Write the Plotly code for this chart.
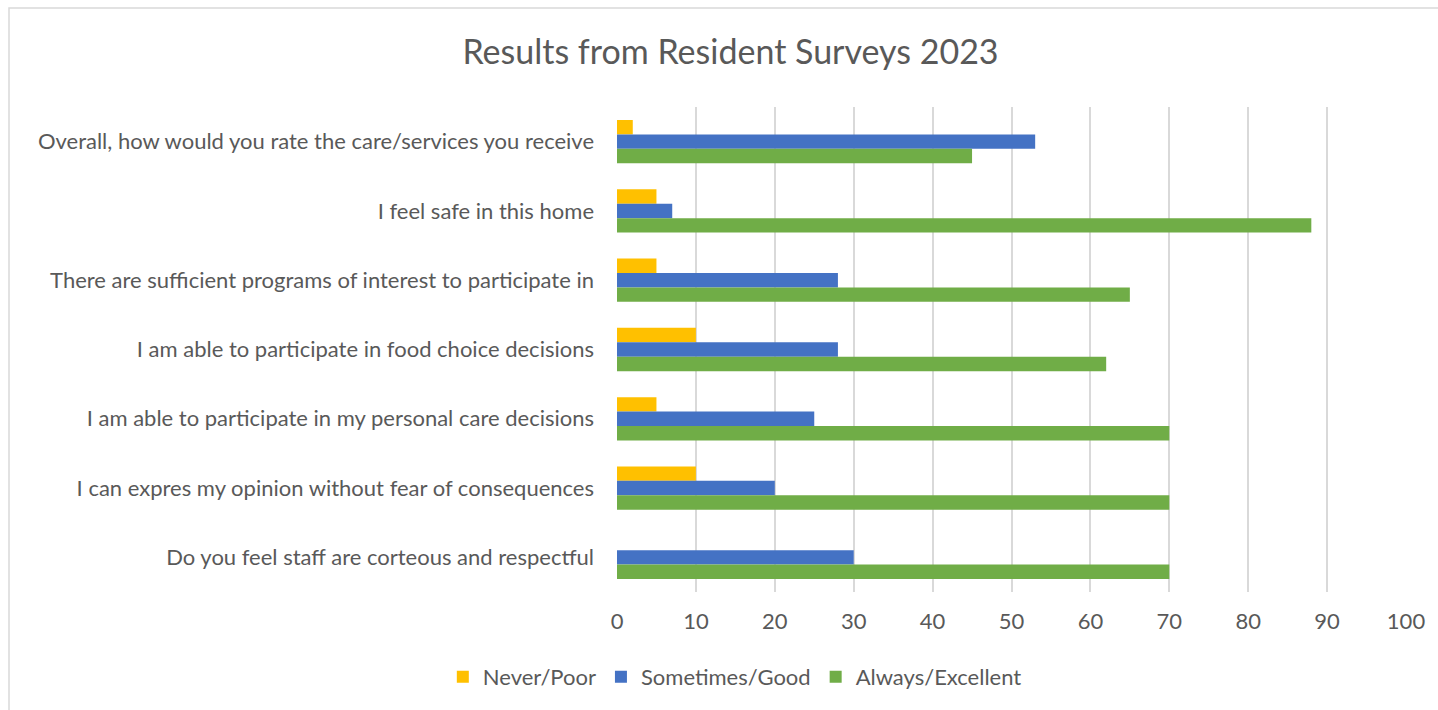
import plotly.graph_objects as go

categories = [
    "Overall, how would you rate the care/services you receive",
    "I feel safe in this home",
    "There are sufficient programs of interest to participate in",
    "I am able to participate in food choice decisions",
    "I am able to participate in my personal care decisions",
    "I can expres my opinion without fear of consequences",
    "Do you feel staff are corteous and respectful",
]
never_poor = [2, 5, 5, 10, 5, 10, 0]
sometimes_good = [53, 7, 28, 28, 25, 20, 30]
always_excellent = [45, 88, 65, 62, 70, 70, 70]

series = [
    ("Never/Poor", never_poor, "#FFC000"),
    ("Sometimes/Good", sometimes_good, "#4472C4"),
    ("Always/Excellent", always_excellent, "#70AD47"),
]

FONT = "Lato"
GREY = "#595959"

fig = go.Figure()
for name, vals, col in series:
    fig.add_trace(go.Bar(
        y=categories, x=vals, name=name, orientation="h",
        marker=dict(color=col, line=dict(width=0)),
    ))

W, H = 1438, 710
L, R, T, B = 617, 32, 107, 118
pw = W - L - R
ph = H - T - B

def px_x(p):
    return (p - L) / pw

def px_y(p):
    return (H - B - p) / ph

fig.update_layout(
    width=W, height=H,
    margin=dict(l=L, r=R, t=T, b=B),
    paper_bgcolor="white", plot_bgcolor="white",
    barmode="group", bargap=0.375, bargroupgap=0,
    font=dict(family=FONT, color=GREY, size=22),
    title=dict(text="Results from Resident Surveys 2023", x=0.508, xref="container",
               xanchor="center", y=1 - 52 / H, yref="container", yanchor="middle",
               font=dict(size=34, color=GREY, family=FONT)),
    xaxis=dict(range=[0, 100], dtick=10, showgrid=True, gridcolor="#d9d9d9", gridwidth=1.5,
               zeroline=False, showline=False, ticks="", tickfont=dict(size=22, color=GREY),
               ticklabelstandoff=14, fixedrange=True),
    yaxis=dict(autorange="reversed", showgrid=False, showline=False, ticks="",
               ticklabelstandoff=22, tickfont=dict(size=22, color=GREY)),
    legend=dict(orientation="h", x=0.511, xref="container", xanchor="center",
                y=1 - 677 / H, yref="container", yanchor="middle",
                font=dict(size=22, color=GREY), itemwidth=30, traceorder="normal"),
    shapes=[dict(type="rect", xref="paper", yref="paper",
                 x0=px_x(9), x1=px_x(1442), y0=px_y(714), y1=px_y(8),
                 line=dict(color="#d9d9d9", width=1.5), fillcolor="rgba(0,0,0,0)",
                 layer="below")],
)

fig.write_html("out.html")
